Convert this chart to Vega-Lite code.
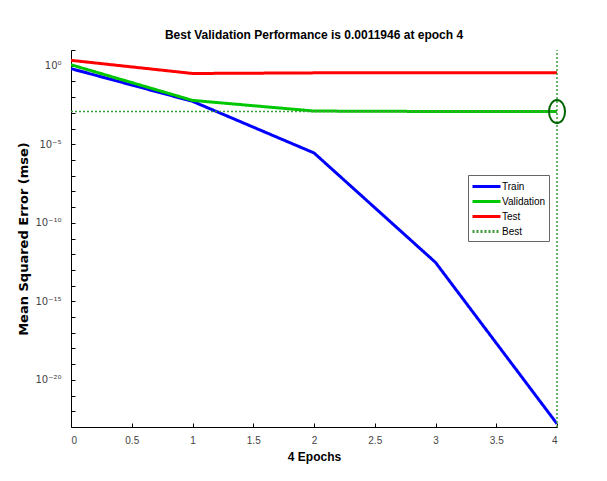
{
  "$schema": "https://vega.github.io/schema/vega-lite/v6.json",
  "autosize": "none",
  "width": 486,
  "height": 377,
  "padding": {"left": 71, "top": 50, "right": 50, "bottom": 54},
  "background": "white",
  "config": {
    "view": {"stroke": null},
    "axis": {
      "grid": false,
      "domainColor": "black",
      "domainWidth": 1,
      "tickColor": "black",
      "tickWidth": 1,
      "tickSize": -4,
      "labelFont": "Liberation Sans",
      "labelFontSize": 10,
      "labelColor": "#444444",
      "titleFont": "Liberation Sans",
      "titleFontSize": 12,
      "titleFontWeight": "bold",
      "titleColor": "black"
    },
    "legend": {
      "labelFont": "Liberation Sans",
      "labelFontSize": 10,
      "labelColor": "black"
    }
  },
  "title": {
    "text": "Best Validation Performance is 0.0011946 at epoch 4",
    "font": "Liberation Sans",
    "fontSize": 12,
    "fontWeight": "bold",
    "color": "black",
    "anchor": "middle",
    "frame": "group",
    "offset": 7
  },
  "datasets": {
    "perf": [
      {"series": "Train", "epoch": 0, "mse": 0.65},
      {"series": "Train", "epoch": 1, "mse": 0.0054},
      {"series": "Train", "epoch": 2, "mse": 2.8e-6},
      {"series": "Train", "epoch": 3, "mse": 3.0e-13},
      {"series": "Train", "epoch": 4, "mse": 1.6e-23},
      {"series": "Validation", "epoch": 0, "mse": 1.15},
      {"series": "Validation", "epoch": 1, "mse": 0.0062},
      {"series": "Validation", "epoch": 2, "mse": 0.0013},
      {"series": "Validation", "epoch": 3, "mse": 0.00122},
      {"series": "Validation", "epoch": 4, "mse": 0.0011946},
      {"series": "Test", "epoch": 0, "mse": 2.2},
      {"series": "Test", "epoch": 1, "mse": 0.32},
      {"series": "Test", "epoch": 2, "mse": 0.35},
      {"series": "Test", "epoch": 3, "mse": 0.35},
      {"series": "Test", "epoch": 4, "mse": 0.35}
    ],
    "best": [
      {"series": "Best", "x0": 0, "x1": 4, "y0": 0.0011946, "y1": 0.0011946},
      {"series": "Best", "x0": 4, "x1": 4, "y0": 1e-23, "y1": 10}
    ],
    "bestPoint": [
      {"epoch": 4, "mse": 0.0011946}
    ]
  },
  "layer": [
    {
      "data": {"name": "perf"},
      "mark": {"type": "line", "strokeWidth": 3, "clip": true},
      "encoding": {
        "x": {
          "field": "epoch",
          "type": "quantitative",
          "scale": {"domain": [0, 4], "nice": false, "zero": false},
          "axis": {"values": [0, 0.5, 1, 1.5, 2, 2.5, 3, 3.5, 4], "format": "~g", "labelPadding": 12, "title": "4 Epochs", "titlePadding": 6}
        },
        "y": {
          "field": "mse",
          "type": "quantitative",
          "scale": {"type": "log", "domain": [1e-23, 10], "nice": false},
          "axis": {
            "values": [1e-22, 1e-21, 1e-20, 1e-19, 1e-18, 1e-17, 1e-16, 1e-15, 1e-14, 1e-13, 1e-12, 1e-11, 1e-10, 1e-9, 1e-8, 1e-7, 1e-6, 1e-5, 1e-4, 1e-3, 1e-2, 1e-1, 1, 10],
            "labelExpr": "round(log(datum.value)/LN10) == 0 ? '10⁰' : round(log(datum.value)/LN10) == -5 ? '10⁻⁵' : round(log(datum.value)/LN10) == -10 ? '10⁻¹⁰' : round(log(datum.value)/LN10) == -15 ? '10⁻¹⁵' : round(log(datum.value)/LN10) == -20 ? '10⁻²⁰' : ''",
            "labelFont": "DejaVu Sans",
            "labelFontSize": 10,
            "labelPadding": 14,
            "title": "Mean Squared Error  (mse)",
            "titleFont": "DejaVu Sans",
            "titleFontSize": 13,
            "titlePadding": 4
          }
        },
        "color": {
          "field": "series",
          "type": "nominal",
          "scale": {"domain": ["Train", "Validation", "Test", "Best"], "range": ["#0000ff", "#00c800", "#ff0000", "#3c9c3c"]},
          "legend": {
            "title": null,
            "orient": "none",
            "legendX": 397,
            "legendY": 125,
            "symbolType": "M-2,0H2",
            "symbolSize": 196,
            "symbolOffset": 7,
            "symbolStrokeWidth": 3,
            "strokeColor": "#666666",
            "fillColor": "white",
            "padding": 3,
            "rowPadding": 0,
            "labelOffset": 7,
            "cornerRadius": 0
          }
        },
        "strokeDash": {
          "field": "series",
          "type": "nominal",
          "scale": {"domain": ["Train", "Validation", "Test", "Best"], "range": [[1, 0], [1, 0], [1, 0], [2, 2]]},
          "legend": null
        }
      }
    },
    {
      "data": {"name": "best"},
      "mark": {"type": "rule", "strokeWidth": 1.5, "clip": false},
      "encoding": {
        "x": {"field": "x0", "type": "quantitative"},
        "x2": {"field": "x1"},
        "y": {"field": "y0", "type": "quantitative"},
        "y2": {"field": "y1"},
        "color": {"field": "series", "type": "nominal"},
        "strokeDash": {"field": "series", "type": "nominal"}
      }
    },
    {
      "data": {"name": "bestPoint"},
      "mark": {
        "type": "point",
        "shape": "M0,-1A0.7,1,0,1,1,0,1A0.7,1,0,1,1,0,-1Z",
        "size": 530,
        "filled": false,
        "stroke": "#006400",
        "strokeWidth": 2,
        "opacity": 1
      },
      "encoding": {
        "x": {"field": "epoch", "type": "quantitative"},
        "y": {"field": "mse", "type": "quantitative"}
      }
    }
  ]
}
